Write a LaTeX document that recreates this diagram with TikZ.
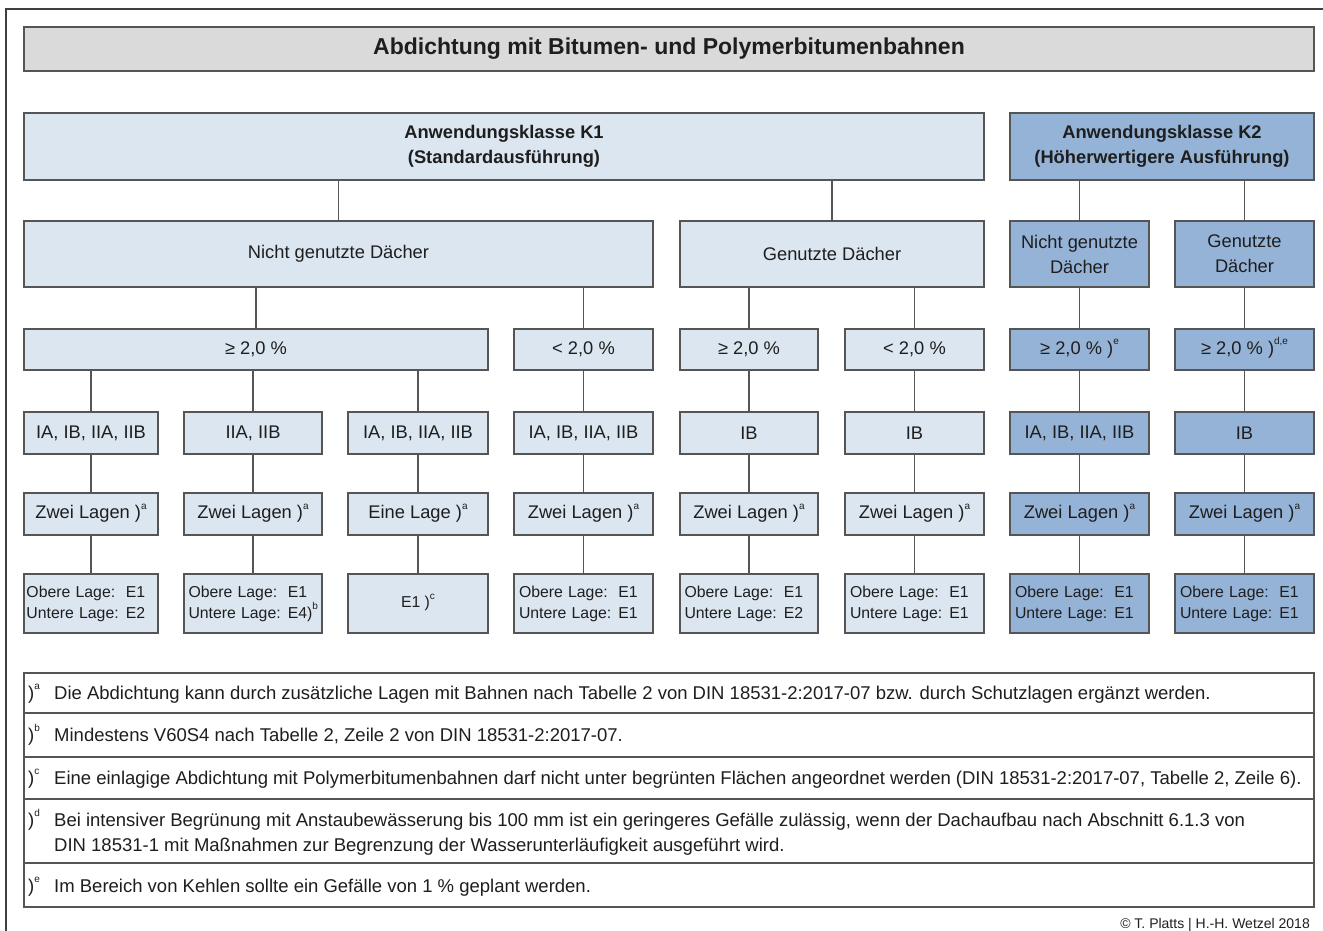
\documentclass[tikz,border=0pt]{standalone}
\usepackage{fontspec}
\setmainfont{Liberation Sans}
\usetikzlibrary{calc}

\definecolor{ink}{HTML}{1E1E1E}
\definecolor{rim}{HTML}{555555}
\definecolor{paleblue}{HTML}{DCE6F1}
\definecolor{midblue}{HTML}{95B3D7}
\definecolor{titlegray}{HTML}{DADADA}

\tikzset{
  box/.style={draw=rim, line width=1.7pt, fill=paleblue, inner sep=0pt, outer sep=0pt,
              text=ink, align=center, font=\fontsize{18.3}{25}\selectfont},
  kbox/.style={fill=midblue},
  headbox/.style={font=\fontsize{18.3}{25}\selectfont\bfseries},
  layerbox/.style={font=\fontsize{15.8}{21}\selectfont, text width=129pt, align=left},
  link/.style={draw=rim, line width=1.7pt},
  rule/.style={draw=rim, line width=1.5pt},
  note/.style={anchor=base west, text=ink, inner sep=0pt, font=\fontsize{18.5}{25}\selectfont},
}

% \mkbox[options]{name}{x1}{y1}{x2}{y2}{text}
\newcommand\mkbox[7][]{%
  \node[box,#1,minimum width={(#5-#3)*1pt},minimum height={(#6-#4)*1pt}]
    (#2) at ({(#3+#5)/2},{(#4+#6)/2}) {#7};}
\newcommand\sups[1]{\smash{\raisebox{0.52em}{\fontsize{10}{10}\selectfont #1}}}
\newcommand\lagen[2]{\begin{tabular}{@{}l@{\hspace{0.45em}}l@{}}Obere Lage: & E1\\ Untere Lage: & #1#2\end{tabular}}

\begin{document}
\begin{tikzpicture}[x=1pt,y=-1pt]
\useasboundingbox (0,0) rectangle (1323,931);

% frame
\draw[draw=ink!85, line width=1.6pt] (6,931) -- (6,9) -- (1323,9);

% title bar
\mkbox[fill=titlegray,font=\fontsize{23}{26}\selectfont\bfseries]{title}{24}{27}{1314}{71}{Abdichtung mit Bitumen- und Polymerbitumenbahnen}

% application classes
\mkbox[headbox]{k1}{24}{113}{984}{180}{Anwendungsklasse K1\\(Standardausführung)}
\mkbox[headbox,kbox]{k2}{1010}{113}{1314}{180}{Anwendungsklasse K2\\(Höherwertigere Ausführung)}

% roof use
\mkbox{ng}{24}{221}{653}{287}{Nicht genutzte Dächer}
\mkbox{gd}{680}{221}{984}{287}{Genutzte Dächer}
\mkbox[kbox]{ng2}{1010}{221}{1149}{287}{Nicht genutzte\\Dächer}
\mkbox[kbox]{gd2}{1175}{221}{1314}{287}{Genutzte\\Dächer}

% slope
\mkbox{s1}{24}{329}{488}{370}{≥ 2,0 \%}
\mkbox{s2}{514}{329}{653}{370}{< 2,0 \%}
\mkbox{s3}{680}{329}{818}{370}{≥ 2,0 \%}
\mkbox{s4}{845}{329}{984}{370}{< 2,0 \%}
\mkbox[kbox]{s5}{1010}{329}{1149}{370}{≥ 2,0 \% )\sups{e}}
\mkbox[kbox]{s6}{1175}{329}{1314}{370}{≥ 2,0 \% )\sups{d,e}}

% property classes
\mkbox{t1}{24}{412}{158}{454}{IA, IB, IIA, IIB}
\mkbox{t2}{184}{412}{322}{454}{IIA, IIB}
\mkbox{t3}{348}{412}{488}{454}{IA, IB, IIA, IIB}
\mkbox{t4}{514}{412}{653}{454}{IA, IB, IIA, IIB}
\mkbox{t5}{680}{412}{818}{454}{IB}
\mkbox{t6}{845}{412}{984}{454}{IB}
\mkbox[kbox]{t7}{1010}{412}{1149}{454}{IA, IB, IIA, IIB}
\mkbox[kbox]{t8}{1175}{412}{1314}{454}{IB}

% number of layers
\mkbox{l1}{24}{493}{158}{535}{Zwei Lagen )\sups{a}}
\mkbox{l2}{184}{493}{322}{535}{Zwei Lagen )\sups{a}}
\mkbox{l3}{348}{493}{488}{535}{Eine Lage )\sups{a}}
\mkbox{l4}{514}{493}{653}{535}{Zwei Lagen )\sups{a}}
\mkbox{l5}{680}{493}{818}{535}{Zwei Lagen )\sups{a}}
\mkbox{l6}{845}{493}{984}{535}{Zwei Lagen )\sups{a}}
\mkbox[kbox]{l7}{1010}{493}{1149}{535}{Zwei Lagen )\sups{a}}
\mkbox[kbox]{l8}{1175}{493}{1314}{535}{Zwei Lagen )\sups{a}}

% sheet types
\mkbox[layerbox]{e1}{24}{574}{158}{633}{\lagen{E2}{}}
\mkbox[layerbox]{e2}{184}{574}{322}{633}{\lagen{E4)}{\sups{b}}}
\mkbox[font=\fontsize{15.8}{21}\selectfont]{e3}{348}{574}{488}{633}{E1 )\sups{c}}
\mkbox[layerbox]{e4}{514}{574}{653}{633}{\lagen{E1}{}}
\mkbox[layerbox]{e5}{680}{574}{818}{633}{\lagen{E2}{}}
\mkbox[layerbox]{e6}{845}{574}{984}{633}{\lagen{E1}{}}
\mkbox[layerbox,kbox]{e7}{1010}{574}{1149}{633}{\lagen{E1}{}}
\mkbox[layerbox,kbox]{e8}{1175}{574}{1314}{633}{\lagen{E1}{}}

% connectors
\foreach \p/\c in {k1/ng, k1/gd, k2/ng2, k2/gd2,
                   ng/s1, ng/s2, gd/s3, gd/s4, ng2/s5, gd2/s6,
                   s1/t1, s1/t2, s1/t3, s2/t4, s3/t5, s4/t6, s5/t7, s6/t8,
                   t1/l1, t2/l2, t3/l3, t4/l4, t5/l5, t6/l6, t7/l7, t8/l8,
                   l1/e1, l2/e2, l3/e3, l4/e4, l5/e5, l6/e6, l7/e7, l8/e8}
  \draw[link] (\c.north) -- (\c.north |- \p.south);

% footnotes
\mkbox[fill=white]{notes}{24}{673}{1314}{907}{}
\foreach \y in {713,757,799,863}
  \draw[rule] (notes.west |- 0,\y) -- (notes.east |- 0,\y);

\node[note] (ma) at (28,699) {)\sups{a}};
\node[note] (na) at (54,699) {Die Abdichtung kann durch zusätzliche Lagen mit Bahnen nach Tabelle 2 von DIN 18531-2:2017-07 bzw. durch Schutzlagen ergänzt werden.};
\node[note] (mb) at (28,741) {)\sups{b}};
\node[note] (nb) at (54,741) {Mindestens V60S4 nach Tabelle 2, Zeile 2 von DIN 18531-2:2017-07.};
\node[note] (mc) at (28,784) {)\sups{c}};
\node[note] (nc) at (54,784) {Eine einlagige Abdichtung mit Polymerbitumenbahnen darf nicht unter begrünten Flächen angeordnet werden (DIN 18531-2:2017-07, Tabelle 2, Zeile 6).};
\node[note] (md) at (28,826) {)\sups{d}};
\node[note] (nd) at (54,826) {Bei intensiver Begrünung mit Anstaubewässerung bis 100 mm ist ein geringeres Gefälle zulässig, wenn der Dachaufbau nach Abschnitt 6.1.3 von};
\node[note] (nd2) at (54,851) {DIN 18531-1 mit Maßnahmen zur Begrenzung der Wasserunterläufigkeit ausgeführt wird.};
\node[note] (me) at (28,892) {)\sups{e}};
\node[note] (ne) at (54,892) {Im Bereich von Kehlen sollte ein Gefälle von 1 \% geplant werden.};

% credit line
\node[anchor=base east, text=ink, inner sep=0pt, font=\fontsize{14}{16}\selectfont] (credit) at (1310,928) {© T. Platts | H.-H. Wetzel 2018};
\end{tikzpicture}
\end{document}
